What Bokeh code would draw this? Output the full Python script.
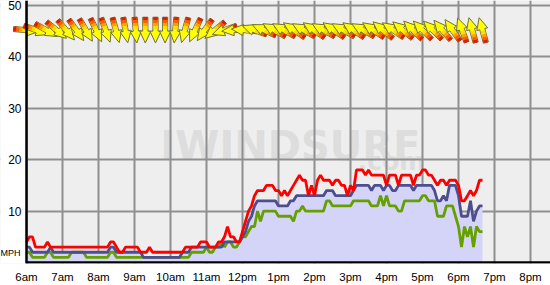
import math
from bokeh.plotting import figure
from bokeh.models import Range1d, FixedTicker, Label, ColumnDataSource, Span, BoxAnnotation
from bokeh.core.properties import value
from bokeh.embed import file_html
from bokeh.resources import INLINE

# ---------------- data ----------------
hour_ticks = list(range(6, 21))
hour_labels = ["6am", "7am", "8am", "9am", "10am", "11am", "12pm", "1pm",
               "2pm", "3pm", "4pm", "5pm", "6pm", "7pm", "8pm"]
mph_ticks = [10, 20, 30, 40, 50]
mph_labels = ["10", "20", "30", "40", "50"]

sample_start_hour = 6.0
sample_step_min = 5

gust = ([4, 5, 5, 3, 3, 3, 3, 4, 3, 3, 3, 3] +
        [3, 3, 3, 3, 3, 3, 3, 3, 3, 3, 3, 3] +
        [3, 3, 3, 3, 4, 4, 3, 2, 2, 3, 3, 3] +
        [3, 3, 2, 2, 2, 3, 2, 2, 2, 2, 2, 2] +
        [2, 2, 2, 2, 2, 3, 3, 3, 3, 3, 4, 4] +
        [4, 3, 3, 3, 4, 4, 5, 7, 5, 5, 4, 4] +
        [6, 8, 10, 11, 13, 14, 14, 14, 15, 15, 15, 14] +
        [14, 13, 14, 13, 14, 15, 16, 17, 16, 16, 13, 15] +
        [13, 16, 17, 16, 16, 16, 15, 16, 16, 15, 15, 13] +
        [15, 14, 18, 18, 18, 17, 18, 17, 17, 17, 17, 17] +
        [15, 17, 17, 17, 15, 17, 17, 17, 17, 15, 17, 17] +
        [18, 18, 17, 17, 16, 15, 16, 16, 15, 16, 16, 16] +
        [15, 12, 12, 13, 14, 13, 14, 16, 16])

avg = ([3, 3, 2, 2, 2, 2, 2, 2, 3, 2, 2, 2] +
       [2, 2, 2, 2, 2, 2, 2, 2, 2, 2, 2, 2] +
       [2, 2, 2, 2, 3, 3, 2, 2, 2, 2, 2, 2] +
       [2, 2, 2, 1, 1, 1, 1, 1, 1, 1, 1, 1] +
       [1, 1, 1, 1, 2, 2, 2, 3, 3, 3, 3, 3] +
       [3, 3, 3, 3, 3, 3, 4, 4, 4, 4, 4, 4] +
       [5, 6, 8, 9, 11, 12, 12, 12, 12, 12, 12, 12] +
       [11, 11, 11, 11, 12, 12, 13, 13, 13, 13, 13, 13] +
       [13, 13, 13, 13, 14, 14, 14, 13, 13, 13, 13, 13] +
       [13, 14, 15, 15, 15, 15, 15, 14, 15, 15, 15, 14] +
       [15, 15, 14, 14, 15, 15, 15, 15, 15, 14, 15, 15] +
       [15, 15, 15, 15, 14, 12, 12, 13, 12, 15, 15, 15] +
       [13, 9, 9, 9, 12, 8, 10, 11, 11])

lull = ([2, 2, 1, 1, 1, 1, 1, 2, 2, 1, 1, 1] +
        [1, 1, 1, 2, 2, 2, 2, 2, 1, 1, 1, 1] +
        [1, 1, 1, 1, 2, 2, 1, 1, 1, 1, 1, 1] +
        [1, 1, 1, 1, 1, 1, 1, 1, 1, 1, 1, 1] +
        [1, 1, 1, 1, 1, 1, 1, 2, 2, 2, 2, 2] +
        [3, 2, 2, 3, 3, 4, 3, 4, 4, 3, 3, 4] +
        [5, 5, 6, 7, 7, 10, 8, 10, 10, 10, 10, 10] +
        [9, 9, 9, 9, 9, 8, 10, 10, 11, 10, 10, 10] +
        [10, 10, 10, 10, 12, 12, 11, 11, 11, 11, 11, 11] +
        [11, 12, 12, 12, 12, 12, 12, 11, 11, 11, 13, 11] +
        [13, 11, 11, 11, 10, 10, 12, 12, 12, 12, 12, 12] +
        [13, 13, 12, 12, 12, 9, 9, 9, 11, 11, 11, 9] +
        [7, 3, 7, 5, 7, 3, 7, 6, 6])

# wind direction arrows (minutes after 6am, direction the wind blows toward, degrees)
arrow_minutes = [0, 16, 33, 50, 66, 83, 99, 116, 132, 149, 165, 182, 198, 215, 231,
                 248, 264, 281, 297, 314, 330, 347, 363, 380, 396, 413, 429, 446,
                 462, 479, 495, 512, 528, 545, 561, 578, 594, 611, 627, 644, 660,
                 677, 693, 710, 726, 743, 760]
arrow_dir = [95, 110, 120, 130, 140, 145, 150, 155, 160, 165, 170, 175, 180, 180, 180,
             185, 195, 205, 215, 230, 250, 265, 275, 290, 295, 300, 300, 305,
             300, 305, 300, 305, 300, 305, 300, 305, 310, 305, 310, 315, 315,
             315, 320, 325, 340, 345, 345]
arrow_level = 45.2

# ---------------- geometry ----------------
PX_PER_HOUR = 36.0
PX_PER_MPH = 5.2
LEFT_PX = 26
FRAME_W, FRAME_H = 550, 266
x_start = 6 - LEFT_PX / PX_PER_HOUR
x_end = x_start + FRAME_W / PX_PER_HOUR
y_start = -1 / PX_PER_MPH
y_end = y_start + FRAME_H / PX_PER_MPH

times = [sample_start_hour + i * sample_step_min / 60.0 for i in range(len(avg))]

p = figure(width=550, height=285, output_backend="svg", toolbar_location=None,
           x_range=Range1d(x_start, x_end), y_range=Range1d(y_start, y_end),
           y_axis_location=None,
           min_border_left=0, min_border_right=0, min_border_top=0,
           min_border_bottom=19)
p.background_fill_color = "#eeeeee"
p.border_fill_color = "white"
p.outline_line_color = None

# watermark
for txt, xh, ym, size, align in [("IWINDSURF", 9.72, 22.7, "40px", "left"),
                                   (".com", 17.08, 19.6, "25px", "right")]:
    lab = Label(x=xh, y=ym, text=txt, text_font="DejaVu Sans", text_font_style="bold",
                text_font_size=size, text_color="#dddddd", text_align=align,
                text_baseline="alphabetic", level="image")
    p.add_layout(lab)

# grid
p.xgrid.ticker = FixedTicker(ticks=hour_ticks)
p.ygrid.ticker = FixedTicker(ticks=mph_ticks)
for g in (p.xgrid, p.ygrid):
    g.grid_line_color = "#8f8f8f"
    g.grid_line_width = 2

# white margin left of the value axis
p.add_layout(BoxAnnotation(right=6, fill_color="white", fill_alpha=1.0,
                           line_color=None, level="underlay"))

# x axis (labels only; the line is drawn separately)
p.xaxis.ticker = FixedTicker(ticks=hour_ticks)
p.xaxis.major_label_overrides = {h: l for h, l in zip(hour_ticks, hour_labels)}
p.xaxis.axis_line_color = None
p.xaxis.major_tick_line_color = None
p.xaxis.minor_tick_line_color = None
p.xaxis.major_label_text_font = "Liberation Sans"
p.xaxis.major_label_text_font_size = "11.5px"
p.xaxis.major_label_text_color = "black"
p.xaxis.major_label_standoff = 1

# speed series
src = ColumnDataSource(dict(t=times, gust=gust, avg=avg, lull=lull))
p.varea(x="t", y1=0, y2="avg", source=src, fill_color="#d4d4f8")
p.line("t", "lull", source=src, line_color="#66a000", line_width=2.8)
p.line("t", "avg", source=src, line_color="#4e4e8e", line_width=2.8)
p.line("t", "gust", source=src, line_color="#ff0000", line_width=2.8)

# arrows
body = [(-13, -2.6), (1, -2.6), (1, -5.6), (13, 0), (1, 5.6), (1, 2.6), (-13, 2.6)]
pieces = [([(-13, -2.1), (-10, -2.1), (-10, 2.1), (-13, 2.1)], "#e01800"),
          ([(-10, -2.1), (-7, -2.1), (-7, 2.1), (-10, 2.1)], "#ff5a00"),
          ([(-7, -2.1), (-4, -2.1), (-4, 2.1), (-7, 2.1)], "#ffa000"),
          ([(-4, -2.1), (-1, -2.1), (-1, 2.1), (-4, 2.1)], "#ffdc00")]


def place(t, deg, pts):
    th = math.radians(deg)
    fx, fy = math.sin(th), math.cos(th)
    rx, ry = math.cos(th), -math.sin(th)
    xs = [t + (a * fx + b * rx) / PX_PER_HOUR for a, b in pts]
    ys = [arrow_level + (a * fy + b * ry) / PX_PER_MPH for a, b in pts]
    return xs, ys


axs, ays, afill, aline, alw = [], [], [], [], []
for m, d in zip(arrow_minutes, arrow_dir):
    t = 6 + m / 60.0
    xs, ys = place(t, d, body)
    axs.append(xs); ays.append(ys); afill.append("#ffff00"); aline.append("#707038"); alw.append(1.0)
    for pts, col in pieces:
        xs, ys = place(t, d, pts)
        axs.append(xs); ays.append(ys); afill.append(col); aline.append(col); alw.append(0.4)

asrc = ColumnDataSource(dict(xs=axs, ys=ays, fill=afill, line=aline, lw=alw))
p.patches("xs", "ys", source=asrc, fill_color="fill", line_color="line", line_width="lw")

# value axis drawn by hand: line, tick labels, unit
p.add_layout(Span(location=6, dimension="height", line_color="black", line_width=2.5))
p.segment(x0=[6], y0=[0], x1=[x_end], y1=[0], line_color="black", line_width=2.5)
p.text(x=[6] * len(mph_ticks), y=mph_ticks, text=mph_labels, x_offset=-5,
       text_align="right", text_baseline="middle", text_font=value("Liberation Sans"),
       text_font_size="12px", text_color="black")
p.text(x=[6], y=[1.92], text=["MPH"], x_offset=-6, text_align="right",
       text_baseline="middle", text_font=value("Liberation Sans"),
       text_font_size="9px", text_color="black")

open("out.html", "w").write(file_html(p, INLINE))
